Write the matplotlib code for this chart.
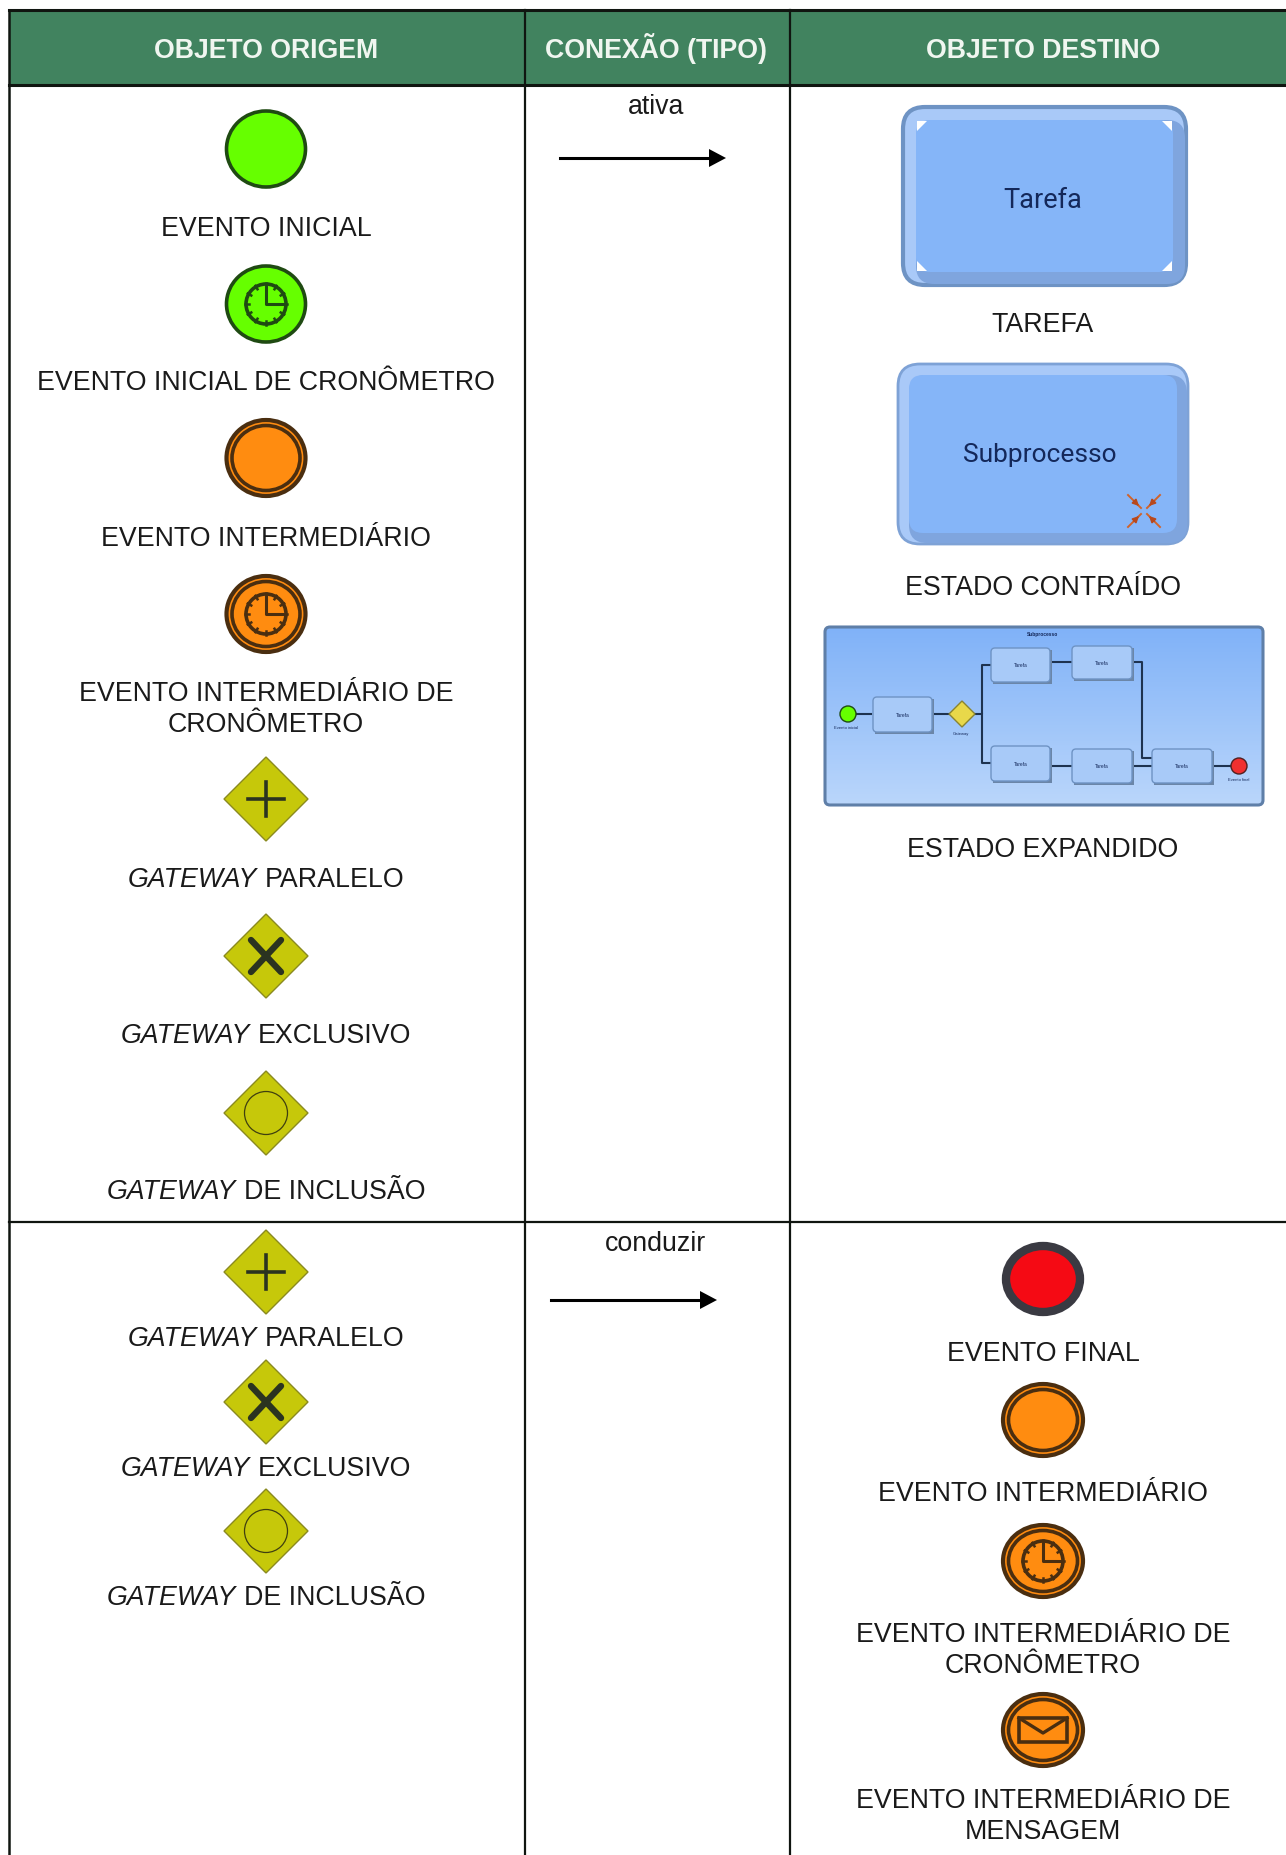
import numpy as np
import matplotlib
matplotlib.use("Agg")
import matplotlib.pyplot as plt
from matplotlib.patches import Ellipse, Polygon, FancyBboxPatch, Rectangle

plt.rcParams['font.family'] = ['Liberation Sans', 'DejaVu Sans']

# cabecalho e textos da tabela
headers = ["OBJETO ORIGEM", "CONEXÃO (TIPO)", "OBJETO DESTINO"]
header_x = [266, 656, 1043]
connections = ["ativa", "conduzir"]
connection_y = [106, 1243]
arrow_x0 = [560, 551]
arrow_x1 = [726, 717]
arrow_y = [159, 1301]

# (tipo, y do icone)
origin_icons = ["start", "start_timer", "inter", "inter_timer", "plus", "x", "o", "plus", "x", "o"]
origin_y = [150, 305, 459, 615, 800, 957, 1114, 1273, 1403, 1532]

# (texto em italico, texto normal, y)
origin_italic = ["", "", "", "", "", "GATEWAY", "GATEWAY", "GATEWAY", "GATEWAY", "GATEWAY", "GATEWAY"]
origin_plain = ["EVENTO INICIAL", "EVENTO INICIAL DE CRONÔMETRO", "EVENTO INTERMEDIÁRIO",
                "EVENTO INTERMEDIÁRIO DE", "CRONÔMETRO", " PARALELO", " EXCLUSIVO", " DE INCLUSÃO",
                " PARALELO", " EXCLUSIVO", " DE INCLUSÃO"]
origin_label_y = [227, 382, 538, 693, 724, 879, 1035, 1191, 1338, 1468, 1597]

dest_icons = ["end", "inter", "inter_timer", "inter_mail"]
dest_y = [1280, 1421, 1562, 1731]
dest_labels = ["TAREFA", "ESTADO CONTRAÍDO", "ESTADO EXPANDIDO", "EVENTO FINAL", "EVENTO INTERMEDIÁRIO",
               "EVENTO INTERMEDIÁRIO DE", "CRONÔMETRO", "EVENTO INTERMEDIÁRIO DE", "MENSAGEM"]
dest_label_y = [323, 587, 849, 1353, 1493, 1634, 1665, 1800, 1831]

# subprocesso expandido
sub_tasks = [(873, 698, 932, 733), (991, 649, 1050, 683), (1072, 647, 1132, 680),
             (991, 747, 1050, 782), (1072, 750, 1132, 784), (1152, 750, 1212, 784)]
sub_links = [([857, 871], [715, 715]), ([934, 950], [715, 715]), ([975, 982, 982, 990], [715, 715, 666, 666]),
             ([982, 982, 990], [715, 764, 764]), ([1051, 1071], [663, 663]), ([1051, 1071], [767, 767]),
             ([1132, 1142, 1142, 1151], [663, 663, 759, 759]), ([1132, 1151], [767, 767]), ([1212, 1230], [767, 767])]

GREEN = "#66FF00"
ORANGE = "#FF8C10"
OLIVE = "#C6C80A"
DARK = "#2B3320"
BROWN = "#4A2E10"
INK = "#1A1A1A"

LABEL_SIZE = 19.3
HALF_CAP = 8.5

fig = plt.figure(figsize=(12.86, 18.56), dpi=100)
ax = fig.add_axes([0, 0, 1, 1])
ax.set_xlim(0, 1286)
ax.set_ylim(1856, 0)
ax.axis("off")


def clock(cx, cy, r, col):
    ax.add_patch(Ellipse((cx, cy), 2 * r, 2 * r, fc="none", ec=col, lw=2.6, zorder=4))
    for a in np.arange(0, 360, 30):
        c, s = np.cos(np.radians(a)), np.sin(np.radians(a))
        ax.plot([cx + c * (r - 3), cx + c * (r + 1)], [cy + s * (r - 3), cy + s * (r + 1)], color=col, lw=1.8, zorder=4)
    ax.plot([cx, cx, cx + r * 0.85], [cy - r * 0.85, cy, cy], color=col, lw=2.2, zorder=4)


def event(kind, cx, cy, rx=39.5, ry=38):
    if kind in ("start", "start_timer"):
        ax.add_patch(Ellipse((cx, cy), 2 * rx, 2 * ry, fc=GREEN, ec="#1F4A12", lw=2.6, zorder=3))
        if kind == "start_timer":
            clock(cx, cy, 20, "#1F4A12")
    elif kind == "end":
        ax.add_patch(Ellipse((cx, cy), 2 * rx - 6, 2 * ry - 6, fc="#F50A14", ec="#3A3A42", lw=6, zorder=3))
    else:
        ax.add_patch(Ellipse((cx, cy), 2 * rx, 2 * ry, fc=ORANGE, ec=BROWN, lw=3, zorder=3))
        ax.add_patch(Ellipse((cx, cy), 2 * rx - 11, 2 * ry - 11, fc=ORANGE, ec=BROWN, lw=2.6, zorder=3))
        if kind == "inter_timer":
            clock(cx, cy, 20, BROWN)
        if kind == "inter_mail":
            ax.add_patch(Rectangle((cx - 24, cy - 12), 48, 24, fc="none", ec=BROWN, lw=2.6, zorder=4))
            ax.plot([cx - 24, cx, cx + 24], [cy - 12, cy + 3, cy - 12], color=BROWN, lw=2.4, zorder=4)


def gateway(kind, cx, cy, h=42):
    ax.add_patch(Polygon([(cx, cy - h), (cx + h, cy), (cx, cy + h), (cx - h, cy)], fc=OLIVE, ec="#8A8A20", lw=1, zorder=3))
    if kind == "plus":
        ax.plot([cx - 18, cx + 18], [cy, cy], color=DARK, lw=2.6, zorder=4)
        ax.plot([cx, cx], [cy - 17, cy + 17], color=DARK, lw=2.6, zorder=4)
    elif kind == "x":
        ax.plot([cx - 15, cx + 15], [cy - 16, cy + 16], color=DARK, lw=4.6, zorder=4, solid_capstyle="round")
        ax.plot([cx - 15, cx + 15], [cy + 16, cy - 16], color=DARK, lw=4.6, zorder=4, solid_capstyle="round")
    else:
        ax.add_patch(Ellipse((cx, cy), 43, 43, fc="none", ec="#3F3F10", lw=0.9, zorder=4))


def icon(kind, cx, cy, **kw):
    if kind in ("plus", "x", "o"):
        gateway(kind, cx, cy)
    else:
        event(kind, cx, cy, **kw)


def label(cx, cy, italic, plain):
    base = cy + HALF_CAP
    if not italic:
        ax.text(cx, base, plain, ha="center", va="baseline", fontsize=LABEL_SIZE, color=INK)
        return
    # italico + normal centrados juntos
    r = fig.canvas.get_renderer()
    a = ax.text(0, base, italic, ha="left", va="baseline", fontsize=LABEL_SIZE, style="italic", color=INK)
    b = ax.text(0, base, plain.strip(), ha="left", va="baseline", fontsize=LABEL_SIZE, color=INK)
    wa = a.get_window_extent(r).width
    wb = b.get_window_extent(r).width
    x0 = cx - (wa + 8 + wb) / 2
    a.set_x(x0)
    b.set_x(x0 + wa + 8)


def round_box(x0, y0, x1, y1, rad, fc, ec="none", lw=1, z=3):
    ax.add_patch(FancyBboxPatch((x0 + rad, y0 + rad), x1 - x0 - 2 * rad, y1 - y0 - 2 * rad,
                                boxstyle="round,pad=%d,rounding_size=%d" % (rad, rad),
                                fc=fc, ec=ec, lw=lw, zorder=z))


def bevel_box(x0, y0, x1, y1, ec, lw, m):
    # claro em cima e a esquerda, escuro embaixo e a direita
    round_box(x0, y0, x1, y1, 22, "#A9C9F8", ec, lw)
    round_box(x0 + m, y0 + m, x1 - 1, y1 - 1, 18, "#7FA5DE")
    round_box(x0 + m, y0 + m, x1 - m, y1 - m, 14, "#85B5F8")


# tabela
ax.add_patch(Rectangle((9, 11), 1277, 75, fc="#41835F", ec="none", zorder=1))
for y in [11, 86]:
    ax.plot([9, 1286], [y, y], color="#101510", lw=2.2, zorder=2)
ax.plot([9, 1286], [1223, 1223], color="#101510", lw=1.6, zorder=2)
ax.plot([9, 9], [11, 1856], color="#101510", lw=1.8, zorder=2)
ax.plot([525, 525], [11, 1856], color="#101510", lw=1.6, zorder=2)
ax.plot([790, 790], [11, 1856], color="#101510", lw=1.6, zorder=2)
for t, x in zip(headers, header_x):
    ax.text(x, 58, t, ha="center", va="baseline", fontsize=19.2, fontweight="bold", color="#F0F6F0")

# conexoes
for t, y in zip(connections, connection_y):
    ax.text(656, y + HALF_CAP, t, ha="center", va="baseline", fontsize=LABEL_SIZE, color=INK)
for x0, x1, y in zip(arrow_x0, arrow_x1, arrow_y):
    ax.plot([x0, x1 - 14], [y, y], color="black", lw=2.2, zorder=3)
    ax.add_patch(Polygon([(x1 - 17, y - 9), (x1, y), (x1 - 17, y + 9)], fc="black", ec="none", zorder=3))

# coluna origem
for k, y in zip(origin_icons, origin_y):
    icon(k, 266, y)
for it, pl, y in zip(origin_italic, origin_plain, origin_label_y):
    label(266, y, it, pl)

# coluna destino
for k, y in zip(dest_icons, dest_y):
    event(k, 1043, y, rx=40, ry=36)
for t, y in zip(dest_labels, dest_label_y):
    label(1043, y, "", t)

# tarefa
bevel_box(903, 108, 1186, 286, "#6E93C4", 3, 13)
for px, py, dx, dy in [(917, 122, 10, 4), (1172, 122, -10, 4), (917, 272, 10, -4), (1172, 272, -10, -4)]:
    ax.add_patch(Polygon([(px, py), (px + dx, py), (px, py + dy * 2.5)], fc="white", ec="none", zorder=4))
ax.text(1043, 200, "Tarefa", ha="center", va="center", fontsize=19.5, color="#14285A", family="Roboto", zorder=5)

# subprocesso contraido
bevel_box(898, 365, 1188, 545, "#7EA2D6", 2, 11)
ax.text(1040, 455, "Subprocesso", ha="center", va="center", fontsize=19, color="#14285A", family="Roboto", zorder=5)
for sx, sy in [(-1, -1), (1, -1), (-1, 1), (1, 1)]:
    ax.plot([1144 + sx * 3, 1144 + sx * 16], [512 + sy * 3, 512 + sy * 16], color="#D0622A", lw=1.4, zorder=5)
    ax.annotate("", xy=(1144 + sx * 3, 512 + sy * 3), xytext=(1144 + sx * 12, 512 + sy * 12),
                arrowprops=dict(arrowstyle="-|>", color="#B8481C", lw=1.2, mutation_scale=9), zorder=5)

# subprocesso expandido, com degrade
bg = FancyBboxPatch((829, 632), 430, 170, boxstyle="round,pad=4,rounding_size=5",
                    fc="none", ec="#5F7FA8", lw=2.2, zorder=3)
ax.add_patch(bg)
grad = np.linspace(0, 1, 100).reshape(-1, 1)
im = ax.imshow(grad, extent=(825, 1263, 806, 628), aspect="auto", zorder=2,
               cmap=matplotlib.colors.LinearSegmentedColormap.from_list("g", ["#80B2F8", "#BAD6FB"]),
               origin="upper")
im.set_clip_path(bg)
ax.set_xlim(0, 1286)
ax.set_ylim(1856, 0)
for xs, ys in sub_links:
    ax.plot(xs, ys, color="#1E3350", lw=1.5, zorder=4)
for x0, y0, x1, y1 in sub_tasks:
    ax.add_patch(Rectangle((x0 + 2, y0 + 2), x1 - x0, y1 - y0, fc="#6B86A8", ec="none", zorder=4))
    round_box(x0, y0, x1, y1, 4, "#A8CAF8", "#6E93C4", 1, z=5)
    ax.text((x0 + x1) / 2, (y0 + y1) / 2, "Tarefa", ha="center", va="center", fontsize=3.5, color="#14285A", zorder=6)
ax.add_patch(Ellipse((848, 715), 16, 16, fc=GREEN, ec="#1F4A12", lw=1, zorder=5))
ax.add_patch(Polygon([(962, 702), (975, 715), (962, 728), (949, 715)], fc="#E8D84A", ec="#8A8430", lw=1, zorder=5))
ax.add_patch(Ellipse((1239, 767), 16, 16, fc="#F03030", ec="#502020", lw=1, zorder=5))
ax.text(1043, 635, "Subprocesso", ha="center", va="center", fontsize=3.5, fontweight="bold", color="#14285A", zorder=6)
ax.text(846, 728, "Evento inicial", ha="center", va="center", fontsize=3, color="#14285A", zorder=6)
ax.text(961, 734, "Gateway", ha="center", va="center", fontsize=3, color="#14285A", zorder=6)
ax.text(1239, 780, "Evento final", ha="center", va="center", fontsize=3, color="#14285A", zorder=6)

fig.savefig("out.png", dpi=100)
